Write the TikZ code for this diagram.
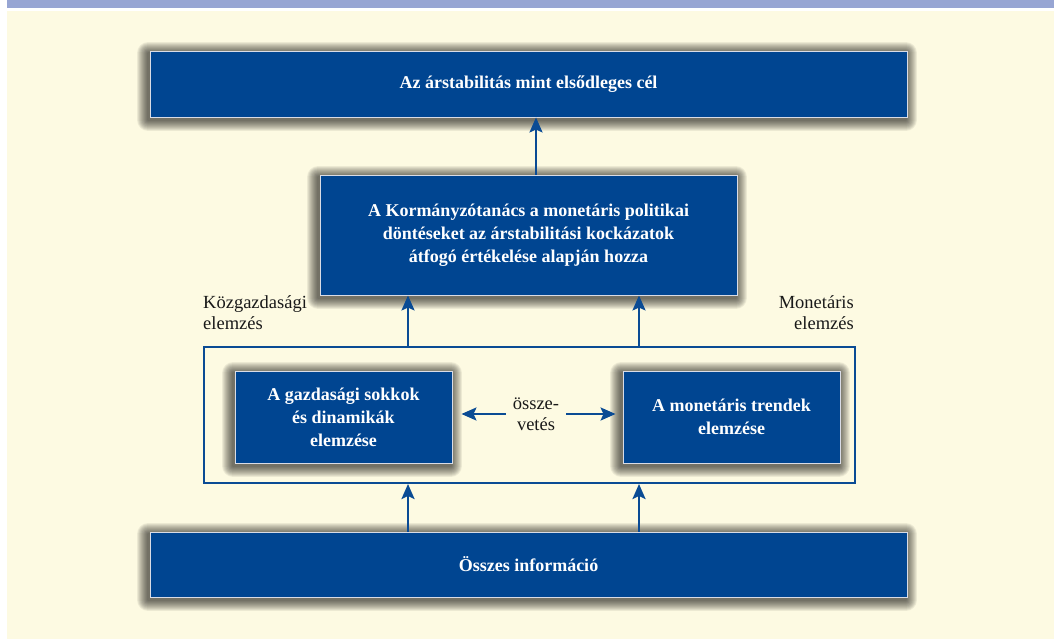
\documentclass[tikz,border=0pt]{standalone}
\usepackage{fontspec}
\setmainfont{Liberation Serif}
\usetikzlibrary{arrows.meta}
\pgfdeclarelayer{bg}
\pgfdeclarelayer{shadowlayer}
\pgfsetlayers{bg,shadowlayer,main}
\definecolor{cream}{HTML}{FDFAE2}
\definecolor{topbar}{HTML}{97A5D3}
\definecolor{boxblue}{HTML}{004591}
\definecolor{lineblue}{HTML}{0A4B94}
\definecolor{boxedge}{HTML}{D9DCE6}
\tikzset{
  bluebox/.style={draw=boxedge, line width=0.9pt, fill=boxblue, text=white,
    font=\fontsize{18}{23}\selectfont\bfseries, align=center, inner sep=0pt},
  softshadow/.style={fill=black, opacity=0.065},
  frame/.style={draw=lineblue, line width=2pt, inner sep=0pt},
  arr/.style={draw=lineblue, line width=2.4pt, -{Stealth[length=15pt,width=13pt,inset=3pt]}},
  lbl/.style={font=\fontsize{18.5}{21}\selectfont, text=black!90, inner sep=0pt}
}
\newcommand{\dropshade}[1]{%
  \foreach \r in {1,...,11}{%
    \fill[softshadow, rounded corners=\r pt]
      ([shift={(-\r-1.5,-\r+2.5)}]#1.north west) rectangle ([shift={(\r-1.5,\r+2.5)}]#1.south east);
  }}
\begin{document}
\begin{tikzpicture}[x=1pt,y=-1pt]
\useasboundingbox (0,0) rectangle (1054,639);
\begin{pgfonlayer}{bg}
\fill[white] (0,0) rectangle (1054,639);
\fill[topbar] (7,0) rectangle (1054,8);
\fill[cream] (7,11) rectangle (1054,639);
\end{pgfonlayer}

\node[bluebox, minimum width=757pt, minimum height=66pt] (top) at (528.5,84)
  {Az árstabilitás mint elsődleges cél};
\node[bluebox, minimum width=417pt, minimum height=120pt] (mid) at (528.5,235)
  {A Kormányzótanács a monetáris politikai\\döntéseket az árstabilitási kockázatok\\átfogó értékelése alapján hozza};
\node[frame, minimum width=651pt, minimum height=136pt] (frm) at (529.5,415) {};
\node[bluebox, minimum width=217pt, minimum height=92pt] (left) at (343.5,417)
  {A gazdasági sokkok\\és dinamikák\\elemzése};
\node[bluebox, minimum width=217pt, minimum height=92pt] (right) at (731.5,417)
  {A monetáris trendek\\elemzése};
\node[bluebox, minimum width=757pt, minimum height=65pt] (bot) at (528.5,564.5)
  {Összes információ};

\begin{pgfonlayer}{shadowlayer}
\dropshade{top}
\dropshade{mid}
\dropshade{left}
\dropshade{right}
\dropshade{bot}
\end{pgfonlayer}

\node[lbl, anchor=west, align=left] (kl) at (203,312.5) {Közgazdasági\\elemzés};
\node[lbl, anchor=east, align=right] (ml) at (854,312.5) {Monetáris\\elemzés};
\node[lbl, align=center, inner xsep=7pt] (cmp) at (536,414) {össze-\\vetés};

\draw[arr] (mid.north -| 536,0) -- (top.south -| 536,0);
\draw[arr] (frm.north -| 408,0) -- (mid.south -| 408,0);
\draw[arr] (frm.north -| 639,0) -- (mid.south -| 639,0);
\draw[arr] (bot.north -| 408,0) -- (frm.south -| 408,0);
\draw[arr] (bot.north -| 639,0) -- (frm.south -| 639,0);
\draw[arr, shorten >=9pt] (cmp.west) -- (cmp.west -| left.east);
\draw[arr, shorten >=7pt] (cmp.east) -- (cmp.east -| right.west);
\end{tikzpicture}
\end{document}
